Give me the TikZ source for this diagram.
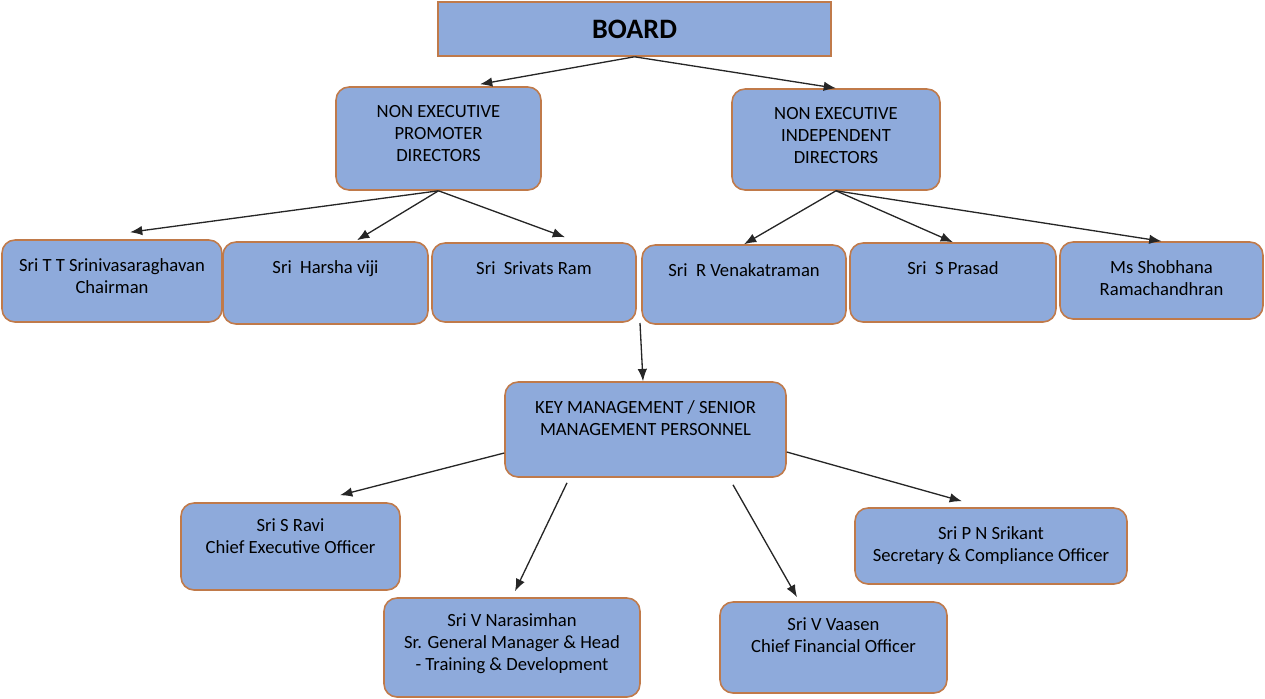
\documentclass[tikz,border=0pt]{standalone}
\usepackage{fontspec}
\setmainfont{Carlito}
\usetikzlibrary{arrows.meta, positioning}
\definecolor{BoxFill}{HTML}{8EAADB}
\definecolor{BoxLine}{HTML}{C07A4A}

\begin{document}
\begin{tikzpicture}[
x=0.02cm, y=-0.02cm,
member/.style={
	rectangle,
	draw=BoxLine,
	fill=BoxFill,
	line width=0.9pt,
	rounded corners=2.6mm},
board/.style={
	rectangle,
	draw=BoxLine,
	fill=BoxFill,
	line width=0.9pt,
	font=\fontsize{16}{19}\selectfont\bfseries},
caption/.style={
	anchor=north,
	inner sep=0pt,
	yshift=-0.38cm,
	align=center,
	font=\fontsize{10.6}{12.5}\selectfont},
post/.style={
	-{Latex[length=7pt,width=5.4pt]},
	draw,
	line width=0.75pt,
	color=black!85}]

\useasboundingbox (0,0) rectangle (1265,698);

%Board and directors
\node[board, minimum width=7.86cm, minimum height=1.08cm] (board) at (634.5,29) {BOARD};

\node[member, minimum width=4.10cm, minimum height=2.06cm,
	label={[caption]north:{NON EXECUTIVE\\PROMOTER\\DIRECTORS}}] (nep) at (438.5,138.5) {};
\node[member, minimum width=4.16cm, minimum height=2.02cm,
	label={[caption]north:{NON EXECUTIVE\\INDEPENDENT\\DIRECTORS}}] (nei) at (836,139.5) {};

\path[post] (board.south) to ([xshift=0.83cm, yshift=0.04cm]nep.north);
\path[post] (board.south) to (nei.north);

%Promoter directors
\node[member, minimum width=4.40cm, minimum height=1.64cm,
	label={[caption]north:{Sri T T Srinivasaraghavan\\Chairman}}] (tts) at (112,281) {};
\node[member, minimum width=4.10cm, minimum height=1.64cm,
	label={[caption]north:{Sri~ Harsha viji}}] (harsha) at (325.5,283) {};
\node[member, minimum width=4.08cm, minimum height=1.58cm,
	label={[caption]north:{Sri~ Srivats Ram}}] (srivats) at (534,282.5) {};

\path[post] (nep.south) to ([xshift=0.36cm, yshift=0.14cm]tts.north);
\path[post] (nep.south) to ([xshift=0.63cm, yshift=0.02cm]harsha.north);
\path[post] (nep.south) to ([xshift=0.62cm, yshift=0.10cm]srivats.north);

%Independent directors
\node[member, minimum width=4.08cm, minimum height=1.58cm,
	label={[caption]north:{Sri~ R Venakatraman}}] (venk) at (744,284.5) {};
\node[member, minimum width=4.12cm, minimum height=1.58cm,
	label={[caption]north:{Sri~ S Prasad}}] (prasad) at (953,282.5) {};
\node[member, minimum width=4.06cm, minimum height=1.54cm,
	label={[caption]north:{Ms Shobhana\\Ramachandhran}}] (shob) at (1161.5,280.5) {};

\path[post] (nei.south) to (venk.north);
\path[post] (nei.south) to (prasad.north);
\path[post] (nei.south) to (shob.north);

%Key management
\coordinate (gap) at (640,323);
\node[member, minimum width=5.62cm, minimum height=1.90cm,
	label={[caption]north:{KEY MANAGEMENT / SENIOR\\MANAGEMENT PERSONNEL}}] (kmp) at (645.5,429.5) {};

\path[post] (gap) to ([xshift=-0.05cm]kmp.north);

\node[member, minimum width=4.38cm, minimum height=1.74cm,
	label={[caption, yshift=0.06cm]north:{Sri S Ravi\\Chief Executive Officer}}] (ravi) at (290.5,546.5) {};
\node[member, minimum width=5.12cm, minimum height=1.98cm,
	label={[caption, yshift=0.06cm]north:{Sri V Narasimhan\\Sr. General Manager \& Head\\- Training \& Development}}] (nara) at (512,647.5) {};
\node[member, minimum width=4.54cm, minimum height=1.82cm,
	label={[caption, yshift=0.06cm]north:{Sri V Vaasen\\Chief Financial Officer}}] (vaasen) at (833.5,647.5) {};
\node[member, minimum width=5.44cm, minimum height=1.52cm,
	label={[caption]north:{Sri P N Srikant\\Secretary \& Compliance Officer}}] (srikant) at (991,546) {};

\path[post] ([yshift=-0.47cm]kmp.west) to ([xshift=0.99cm, yshift=0.14cm]ravi.north);
\path[post] ([xshift=-1.57cm, yshift=-0.10cm]kmp.south) to ([xshift=0.06cm, yshift=0.12cm]nara.north);
\path[post] ([xshift=1.75cm, yshift=-0.14cm]kmp.south) to ([xshift=-0.73cm, yshift=0.08cm]vaasen.north);
\path[post] ([yshift=-0.45cm]kmp.east) to ([xshift=-0.58cm, yshift=0.12cm]srikant.north);

\end{tikzpicture}
\end{document}
